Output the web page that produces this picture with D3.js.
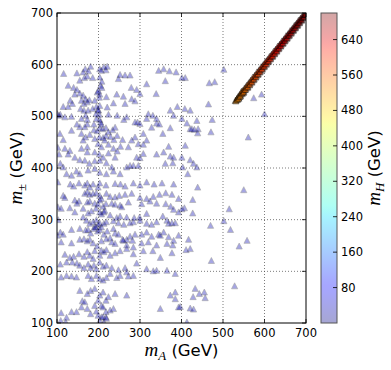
<!DOCTYPE html>
<html>
<head>
<meta charset="utf-8">
<script src="https://cdn.jsdelivr.net/npm/d3@7"></script>
<style>
  body { margin: 0; background: #fff; }
  svg { display: block; font-family: "DejaVu Sans", sans-serif; }
</style>
</head>
<body>
<svg id="chart" width="391" height="370"></svg>
<script>
// axis ticks
const xTicks = [100, 200, 300, 400, 500, 600, 700];
const yTicks = [100, 200, 300, 400, 500, 600, 700];
const cbTicks = [80, 160, 240, 320, 400, 480, 560, 640];

// m_H of the light points (all read as the bottom of the colour bar)
const lowMH = 30;

// [m_A, m_pm]
const lowPoints = [
  // upper band, m_pm 500-600
  [116,583],[148,584],[163,586],[168,592],[176,588],[181,597],[155,570],[166,575],[173,578],[186,575],
  [203,592],[207,589],[213,596],[218,590],[221,597],[208,568],[203,576],[248,573],[252,581],[264,580],
  [276,580],[279,556],[292,552],[316,563],[345,589],[357,592],[371,588],[387,586],[361,569],[401,575],
  [409,575],[339,544],[373,512],[390,519],[421,512],
  [127,560],[140,556],[148,552],[143,543],[132,531],[137,525],[127,519],[115,519],[108,504],[105,502],
  [119,499],[135,500],[155,545],[163,541],[159,531],[169,534],[165,525],[173,528],[178,532],[157,515],
  [165,512],[175,512],[186,515],[169,502],[159,496],[173,494],[195,519],[199,513],[202,504],[197,547],
  [203,543],[205,560],[208,556],[219,538],[221,518],[224,504],[236,526],[245,502],[261,494],[203,494],
  [195,496],[200,550],[202,537],[203,521],[200,512],[191,531],[194,505],[244,543],[260,539],[280,534],
  [264,525],[288,530],[300,544],[268,499],[101,505],
  // middle band, m_pm 380-500
  [189,485],[173,485],[167,480],[155,480],[135,473],[148,485],[159,467],[169,460],[179,465],[189,474],
  [197,472],[203,478],[210,476],[218,478],[224,470],[234,474],[240,479],[202,460],[211,459],[218,463],
  [229,461],[237,455],[245,463],[258,455],[163,454],[173,441],[159,438],[173,431],[191,457],[199,447],
  [207,441],[215,454],[224,446],[236,438],[245,433],[253,442],[191,431],[202,427],[211,421],[224,429],
  [240,421],[131,434],[127,427],[143,421],[155,416],[167,415],[178,409],[191,414],[203,415],[219,410],
  [232,402],[175,396],[191,399],[203,392],[219,389],[236,394],[252,389],[268,402],[276,405],[284,405],
  [292,421],[300,420],[296,405],[308,428],[272,441],[280,454],[288,460],[296,447],[308,446],[316,454],
  [288,489],[294,489],[300,486],[308,467],[328,479],[340,487],[347,485],[355,467],[373,478],[369,442],
  [340,427],[357,431],[373,423],[381,421],[361,409],[379,410],[401,421],[421,416],[429,409],[437,402],
  [316,496],[320,505],[331,502],[340,496],[381,502],[401,496],[413,487],[421,476],[437,492],
  [107,467],[115,455],[119,438],[105,427],[108,409],[115,402],[123,389],[135,386],[147,394],[155,389],
  [205,489],[207,485],[102,440],
  // right side, sparse
  [502,591],[467,565],[480,567],[465,524],[574,536],[593,543],[600,505],[561,460],[471,470],[440,476],
  [474,494],[408,515],[425,476],[431,475],[439,468],[409,444],[403,402],[415,389],
  [439,363],[550,358],[427,339],[407,323],[401,321],[427,313],[515,321],[502,298],[470,289],[518,281],
  [417,262],[558,260],[539,249],[411,242],[421,244],[472,221],[528,172],[433,167],[428,151],[443,157],
  [455,160],[457,149],[421,129],[429,127],[397,132],[413,102],
  // lower band, m_pm 100-380
  [102,373],[132,369],[140,365],[153,371],[167,367],[173,371],[179,363],[187,369],[199,363],[203,371],
  [218,367],[240,370],[253,369],[264,365],[284,371],[300,367],[316,373],[334,369],[353,371],[381,369],
  [115,347],[119,343],[167,351],[173,354],[179,349],[187,351],[195,352],[203,347],[207,341],[219,351],
  [228,345],[240,344],[250,347],[264,349],[280,351],[300,343],[316,341],[332,345],[347,349],[362,352],
  [377,349],[393,341],
  [143,338],[153,336],[148,332],[173,334],[179,336],[191,332],[199,330],[203,338],[211,326],[218,331],
  [232,332],[240,330],[252,328],[256,325],[272,334],[304,331],[324,336],[340,332],[362,331],[374,326],
  [102,325],[110,322],[131,323],[143,315],[163,322],[175,313],[183,317],[194,322],[203,315],[207,311],
  [215,318],[213,315],[228,309],[244,304],[252,307],[268,305],[286,304],[299,305],[316,312],[355,307],
  [381,320],[393,315],
  [163,305],[171,299],[179,293],[187,296],[195,300],[199,291],[203,294],[191,287],[207,286],[213,293],
  [219,296],[236,298],[248,294],[261,291],[276,294],[284,296],[300,299],[316,293],[328,291],[340,296],
  [365,299],[369,293],[377,294],[385,294],[103,300],
  [108,276],[115,272],[135,281],[155,283],[169,280],[175,281],[181,274],[189,283],[194,286],[198,278],
  [203,281],[213,272],[221,278],[228,265],[236,283],[240,274],[248,272],[260,260],[268,262],[276,268],
  [282,260],[288,272],[304,272],[316,276],[328,268],[345,272],[349,270],[357,276],[369,267],[381,260],
  [393,270],[101,270],
  [110,257],[135,255],[155,262],[165,263],[173,259],[179,262],[187,255],[197,249],[207,259],[219,263],
  [232,257],[240,254],[258,262],[268,251],[284,247],[304,255],[320,257],[340,251],[365,254],[379,251],
  [119,233],[131,227],[140,229],[153,234],[165,229],[173,238],[179,231],[187,225],[191,240],[203,231],
  [207,241],[213,238],[219,242],[228,231],[240,236],[252,240],[268,244],[284,234],[292,216],[308,240],
  [331,240],[349,227],[377,236],
  [108,214],[123,218],[137,218],[148,216],[155,212],[165,207],[175,214],[181,207],[189,212],[195,205],
  [203,218],[211,210],[219,212],[232,207],[248,203],[264,207],[268,199],[284,192],[316,205],[332,201],
  [365,202],
  [110,189],[123,192],[135,191],[147,189],[175,192],[183,186],[195,192],[203,186],[211,183],[219,188],
  [228,196],[244,188],[252,192],[272,191],[340,202],[385,196],
  [155,163],[161,143],[173,157],[181,163],[167,141],[191,167],[203,154],[199,144],[211,160],[218,144],
  [224,151],[240,157],[268,154],[385,160],[373,154],[385,147],
  [147,122],[159,131],[173,128],[181,118],[191,134],[195,123],[207,134],[211,131],[218,122],[228,125],
  [236,128],[199,115],[207,112],[218,112],[349,128],[393,131],
  [110,120],[123,111],[135,122],[203,105],[211,112],[213,102],[219,109],[109,105],[121,102]
];

// [m_A, m_pm, m_H] along the diagonal
const diagPoints = [
  [530,531,528],[531,530,529],[533,533,531],[534,535,532],[535,533,532],[536,538,534],[537,536,535],
  [538,535,536],[539,538,537],[540,542,539],[541,539,539],[542,540,541],[543,543,540],[544,546,543],
  [545,549,542],[546,544,545],[547,547,545],[548,550,547],[549,546,547],[550,548,549],[551,551,548],
  [552,555,551],[553,552,551],[555,553,554],[556,557,555],[557,560,556],[559,556,557],[560,558,559],
  [561,562,560],[562,565,561],[564,561,562],[565,563,564],[566,567,565],[567,570,566],[569,566,567],
  [570,568,569],[571,572,570],[572,576,571],[574,571,572],[575,573,574],[576,577,575],[577,580,576],
  [579,576,577],[580,578,579],[581,582,580],[582,586,581],[584,581,582],[585,583,584],[586,587,585],
  [587,590,586],[589,586,587],[590,588,589],[591,592,590],[592,596,591],[594,591,592],[595,593,594],
  [596,597,595],[597,600,596],[599,596,597],[600,598,599],[601,602,600],[602,606,601],[604,601,602],
  [605,603,604],[606,607,605],[607,610,606],[609,606,607],[610,608,609],[611,612,610],[612,616,611],
  [614,611,612],[615,613,614],[616,617,615],[617,620,616],[619,616,617],[620,618,619],[621,622,620],
  [622,626,621],[624,621,622],[625,623,624],[626,627,625],[627,630,626],[629,626,627],[630,628,629],
  [631,632,630],[632,636,631],[634,631,632],[635,633,634],[636,637,635],[637,640,636],[639,636,637],
  [640,638,639],[641,642,640],[642,646,641],[644,641,642],[645,643,644],[646,647,645],[647,650,646],
  [649,646,647],[650,648,649],[651,652,650],[652,656,651],[654,651,652],[655,653,654],[656,657,655],
  [657,660,656],[659,656,657],[660,658,659],[661,662,660],[662,666,661],[664,661,662],[665,663,664],
  [666,667,665],[667,670,666],[669,666,667],[670,668,669],[671,672,670],[672,676,671],[674,671,672],
  [675,673,674],[676,677,675],[677,680,676],[679,676,677],[680,678,679],[681,682,680],[682,686,681],
  [684,681,682],[685,683,684],[686,687,685],[687,690,686],[689,686,687],[690,688,689],[691,692,690],
  [692,696,691],[694,691,692],[695,693,694],[696,697,695],[697,699,696],[699,697,698]
];

const svg = d3.select("#chart");
const pLeft = 57, pRight = 306, pTop = 13, pBottom = 323;

const x = d3.scaleLinear().domain([100, 700]).range([pLeft, pRight]);
const y = d3.scaleLinear().domain([100, 700]).range([pBottom, pTop]);

// matplotlib "jet"
const jetR = d3.scaleLinear().domain([0, 0.35, 0.66, 0.89, 1]).range([0, 0, 1, 1, 0.5]).clamp(true);
const jetG = d3.scaleLinear().domain([0, 0.125, 0.375, 0.64, 0.91, 1]).range([0, 0, 1, 1, 0, 0]).clamp(true);
const jetB = d3.scaleLinear().domain([0, 0.11, 0.34, 0.65, 1]).range([0.5, 1, 1, 0, 0]).clamp(true);
const jet = t => d3.rgb(jetR(t) * 255, jetG(t) * 255, jetB(t) * 255).toString();
const mhScale = d3.scaleLinear().domain([0, 700]).range([0, 1]);
const color = v => jet(mhScale(v));
const alpha = 0.35;

// grid
const grid = svg.append("g").attr("stroke", "#444").attr("stroke-width", 0.7).attr("stroke-dasharray", "1,2");
grid.selectAll(".gx").data(xTicks.slice(1, -1)).join("line")
  .attr("x1", d => x(d)).attr("x2", d => x(d)).attr("y1", pTop).attr("y2", pBottom);
grid.selectAll(".gy").data(yTicks.slice(1, -1)).join("line")
  .attr("y1", d => y(d)).attr("y2", d => y(d)).attr("x1", pLeft).attr("x2", pRight);

// points
svg.append("clipPath").attr("id", "clip").append("rect")
  .attr("x", pLeft).attr("y", pTop).attr("width", pRight - pLeft).attr("height", pBottom - pTop);
const tri = "M0,-3L3.1,3L-3.1,3Z";
const pts = svg.append("g").attr("clip-path", "url(#clip)");
pts.selectAll(".lo").data(lowPoints).join("path")
  .attr("d", tri)
  .attr("transform", d => `translate(${x(d[0])},${y(d[1])})`)
  .attr("fill", color(lowMH)).attr("stroke", "#000").attr("stroke-width", 0.6)
  .attr("opacity", alpha);
// the diagonal is stacked many points deep, so it reads much darker
pts.selectAll(".hi").data(diagPoints).join("path")
  .attr("d", tri)
  .attr("transform", d => `translate(${x(d[0])},${y(d[1])})`)
  .attr("fill", d => color(d[2])).attr("stroke", "#000").attr("stroke-width", 0.8)
  .attr("opacity", 0.55);

// frame + inward ticks
svg.append("rect").attr("x", pLeft).attr("y", pTop).attr("width", pRight - pLeft).attr("height", pBottom - pTop)
  .attr("fill", "none").attr("stroke", "#000").attr("stroke-width", 1);
const tk = svg.append("g").attr("stroke", "#000").attr("stroke-width", 0.8);
xTicks.forEach(t => {
  tk.append("line").attr("x1", x(t)).attr("x2", x(t)).attr("y1", pBottom).attr("y2", pBottom - 4);
  tk.append("line").attr("x1", x(t)).attr("x2", x(t)).attr("y1", pTop).attr("y2", pTop + 4);
});
yTicks.forEach(t => {
  tk.append("line").attr("y1", y(t)).attr("y2", y(t)).attr("x1", pLeft).attr("x2", pLeft + 4);
  tk.append("line").attr("y1", y(t)).attr("y2", y(t)).attr("x1", pRight).attr("x2", pRight - 4);
});

// tick labels
svg.append("g").selectAll("text").data(xTicks).join("text")
  .attr("x", d => x(d)).attr("y", 337).attr("text-anchor", "middle")
  .attr("font-size", 11.5).text(d => d);
svg.append("g").selectAll("text").data(yTicks).join("text")
  .attr("x", pLeft - 4).attr("y", d => y(d) + 4).attr("text-anchor", "end")
  .attr("font-size", 11.5).text(d => d);

// axis labels
const xl = svg.append("text").attr("x", (pLeft + pRight) / 2).attr("y", 356)
  .attr("text-anchor", "middle").attr("font-size", 16.5);
xl.append("tspan").attr("font-family", "Liberation Serif, serif").attr("font-style", "italic").attr("font-size", 19).text("m");
xl.append("tspan").attr("font-family", "Liberation Serif, serif").attr("font-style", "italic").attr("font-size", 13).attr("dy", 4).text("A");
xl.append("tspan").attr("dy", -4).text(" (GeV)");

const yl = svg.append("text").attr("transform", `translate(22,${(pTop + pBottom) / 2}) rotate(-90)`)
  .attr("text-anchor", "middle").attr("font-size", 16.5);
yl.append("tspan").attr("font-family", "Liberation Serif, serif").attr("font-style", "italic").attr("font-size", 19).text("m");
yl.append("tspan").attr("font-family", "Liberation Serif, serif").attr("font-size", 13).attr("dy", 4).text("±");
yl.append("tspan").attr("dy", -4).text(" (GeV)");

// colour bar
const cbX = 321, cbW = 16;
const cb = d3.scaleLinear().domain([0, 700]).range([pBottom, pTop]);
const grad = svg.append("defs").append("linearGradient").attr("id", "jet")
  .attr("x1", 0).attr("y1", 1).attr("x2", 0).attr("y2", 0);
d3.range(0, 1.0001, 0.02).forEach(t => {
  grad.append("stop").attr("offset", t).attr("stop-color", jet(t));
});
svg.append("rect").attr("x", cbX).attr("y", pTop).attr("width", cbW).attr("height", pBottom - pTop)
  .attr("fill", "url(#jet)").attr("opacity", alpha);
svg.append("rect").attr("x", cbX).attr("y", pTop).attr("width", cbW).attr("height", pBottom - pTop)
  .attr("fill", "none").attr("stroke", "#555").attr("stroke-width", 1);
cbTicks.forEach(t => {
  svg.append("line").attr("x1", cbX + cbW).attr("x2", cbX + cbW - 4)
    .attr("y1", cb(t)).attr("y2", cb(t)).attr("stroke", "#000").attr("stroke-width", 0.8);
});
svg.append("g").selectAll("text").data(cbTicks).join("text")
  .attr("x", cbX + cbW + 4).attr("y", d => cb(d) + 4)
  .attr("font-size", 11.5).text(d => d);

const cl = svg.append("text").attr("transform", `translate(380,${(pTop + pBottom) / 2}) rotate(-90)`)
  .attr("text-anchor", "middle").attr("font-size", 16.5);
cl.append("tspan").attr("font-family", "Liberation Serif, serif").attr("font-style", "italic").attr("font-size", 19).text("m");
cl.append("tspan").attr("font-family", "Liberation Serif, serif").attr("font-style", "italic").attr("font-size", 13).attr("dy", 4).text("H");
cl.append("tspan").attr("dy", -4).text(" (GeV)");
</script>
</body>
</html>
